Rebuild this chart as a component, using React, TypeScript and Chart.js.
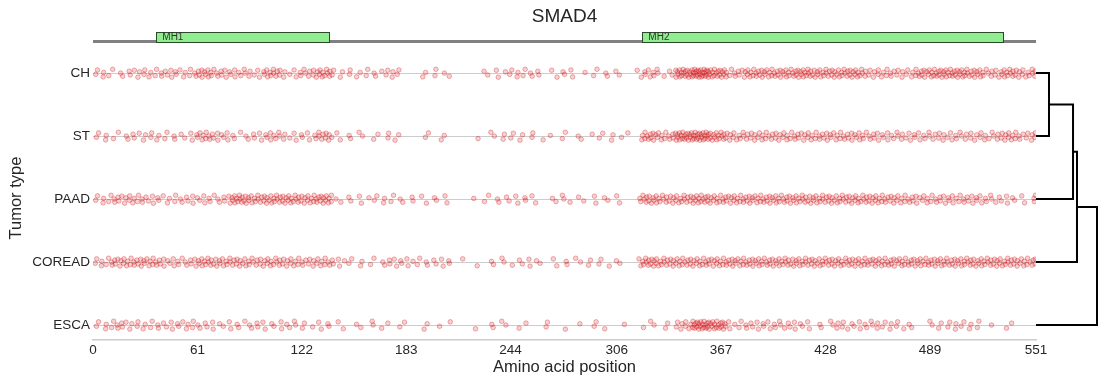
import React, { useEffect, useRef } from "react";
import { Chart, registerables } from "chart.js";
Chart.register(...registerables);

const GENE = "SMAD4";
const TUMOR_TYPES = ["CH", "ST", "PAAD", "COREAD", "ESCA"];
const X_TICKS = [0, 61, 122, 183, 244, 306, 367, 428, 489, 551];
const PROTEIN_LENGTH = 551;
const DOMAIN_NAMES = ["MH1", "MH2"];
const DOMAIN_STARTS = [37, 321];
const DOMAIN_ENDS = [138, 532];

// mutation counts per 10-aa bin (bins 0..55)
const BIN_SIZE = 10;
const CH_COUNTS = [5, 3, 6, 6, 7, 6, 11, 8, 7, 6, 11, 5, 8, 12, 4, 4, 4, 6, 0, 3, 3, 0, 1, 3, 5, 5, 2, 4, 2, 3, 3, 1, 8, 4, 18, 24, 16, 8, 12, 12, 12, 14, 12, 12, 13, 8, 8, 7, 12, 14, 14, 12, 8, 12, 9, 2];
const ST_COUNTS = [4, 3, 5, 5, 4, 4, 10, 7, 4, 5, 8, 5, 5, 10, 3, 3, 2, 4, 0, 2, 2, 0, 1, 3, 4, 3, 2, 2, 2, 3, 3, 1, 12, 9, 18, 20, 14, 9, 9, 9, 9, 9, 9, 9, 9, 8, 7, 7, 7, 7, 7, 7, 7, 10, 7, 2];
const PAAD_COUNTS = [5, 8, 8, 6, 5, 6, 6, 6, 14, 11, 12, 12, 11, 13, 3, 3, 4, 4, 3, 3, 3, 0, 2, 3, 4, 4, 1, 4, 2, 3, 3, 1, 12, 10, 11, 13, 11, 11, 11, 11, 11, 11, 11, 11, 11, 11, 10, 9, 8, 8, 8, 8, 6, 5, 3, 2];
const COREAD_COUNTS = [6, 10, 10, 10, 7, 7, 11, 10, 10, 9, 10, 9, 8, 9, 5, 3, 3, 6, 5, 4, 5, 1, 1, 3, 3, 4, 2, 3, 3, 3, 3, 1, 13, 11, 11, 11, 11, 11, 11, 11, 11, 11, 11, 11, 11, 11, 11, 11, 11, 11, 11, 11, 11, 11, 10, 2];
const ESCA_COUNTS = [4, 7, 5, 5, 5, 6, 5, 4, 4, 5, 4, 5, 3, 4, 2, 2, 3, 2, 1, 2, 2, 0, 1, 3, 2, 1, 2, 1, 1, 3, 0, 1, 3, 2, 8, 20, 16, 5, 6, 6, 6, 5, 2, 6, 5, 6, 5, 4, 1, 4, 5, 4, 1, 2, 0, 0];
const ROW_COUNTS = [CH_COUNTS, ST_COUNTS, PAAD_COUNTS, COREAD_COUNTS, ESCA_COUNTS];

// strip-plot jitter pattern (vertical in row units, horizontal as fraction of spacing)
const JITTER_Y = [0.02, -0.05, 0.06, -0.01, 0.04, -0.06, 0.0, 0.05, -0.03, 0.03, -0.045, 0.065, -0.02];
const JITTER_X = [0.3, -0.2, 0.45, -0.4, 0.1, -0.05, 0.35, -0.3, 0.2, -0.45, 0.0, 0.25, -0.15, 0.4, -0.35, 0.15, -0.25];

// hierarchical clustering: leaves 0..4, merged nodes numbered 5..
const MERGE_A = [0, 5, 6, 7];
const MERGE_B = [1, 2, 3, 4];
const MERGE_HEIGHT = [0.213, 0.607, 0.672, 1.0];

const FONT = "'Liberation Sans', Arial, sans-serif";
const TRACK_Y = -0.5;
const BOX_TOP = -0.65;
const BOX_BOTTOM = -0.49;

function buildPoints(counts: number[], row: number) {
  const pts: { x: number; y: number }[] = [];
  let j = 0;
  counts.forEach((c, b) => {
    const start = b * BIN_SIZE;
    const width = Math.min(BIN_SIZE, PROTEIN_LENGTH - start);
    const step = c > 0 ? width / c : 0;
    for (let k = 0; k < c; k++) {
      let x = start + (k + 0.5) * step + JITTER_X[j % JITTER_X.length] * step;
      x = Math.max(0.5, Math.min(PROTEIN_LENGTH - 0.3, x));
      const y = row + JITTER_Y[j % JITTER_Y.length];
      pts.push({ x, y });
      j++;
    }
  });
  return pts;
}

function buildDendrogram() {
  const ny: number[] = TUMOR_TYPES.map((_, i) => i);
  const nh: number[] = TUMOR_TYPES.map(() => 0);
  const segs: { x: number; y: number }[][] = [];
  MERGE_A.forEach((a, i) => {
    const b = MERGE_B[i];
    const h = MERGE_HEIGHT[i];
    segs.push([
      { x: nh[a], y: ny[a] },
      { x: h, y: ny[a] },
      { x: h, y: ny[b] },
      { x: nh[b], y: ny[b] },
    ]);
    ny.push((ny[a] + ny[b]) / 2);
    nh.push(h);
  });
  return segs;
}

const overlayPlugin = {
  id: "overlay",
  afterDatasetsDraw(chart: any) {
    const { ctx, chartArea, scales } = chart;
    const xs = scales.x;
    const ys = scales.y;
    ctx.save();
    DOMAIN_NAMES.forEach((name, i) => {
      const x1 = xs.getPixelForValue(DOMAIN_STARTS[i]);
      const x2 = xs.getPixelForValue(DOMAIN_ENDS[i]);
      const y1 = ys.getPixelForValue(BOX_TOP);
      const y2 = ys.getPixelForValue(BOX_BOTTOM);
      ctx.fillStyle = "#90ee90";
      ctx.fillRect(x1, y1, x2 - x1, y2 - y1);
      ctx.strokeStyle = "#2a4a2a";
      ctx.lineWidth = 1;
      ctx.strokeRect(Math.round(x1) + 0.5, Math.round(y1) + 0.5, Math.round(x2 - x1), Math.round(y2 - y1));
      ctx.fillStyle = "#333333";
      ctx.font = `10px ${FONT}`;
      ctx.textAlign = "left";
      ctx.textBaseline = "middle";
      ctx.fillText(name, x1 + 6, (y1 + y2) / 2 + 0.5);
    });
    const cx = (chartArea.left + chartArea.right) / 2;
    ctx.fillStyle = "#262626";
    ctx.textAlign = "center";
    ctx.textBaseline = "middle";
    ctx.font = `19px ${FONT}`;
    ctx.fillText(GENE, cx, 17);
    ctx.font = `16.5px ${FONT}`;
    ctx.fillText("Amino acid position", cx, 367);
    const ym = (ys.getPixelForValue(-0.27) + chartArea.bottom) / 2;
    ctx.translate(16, ym);
    ctx.rotate(-Math.PI / 2);
    ctx.fillText("Tumor type", 0, 0);
    ctx.restore();
  },
};

export default function App() {
  const ref = useRef<HTMLCanvasElement | null>(null);
  useEffect(() => {
    document.body.style.margin = "0";
    if (!ref.current) return;
    const rowSets = ROW_COUNTS.map((counts, r) => ({
      label: TUMOR_TYPES[r],
      data: buildPoints(counts, r),
      pointRadius: 2.3,
      pointBorderWidth: 0.9,
      backgroundColor: "rgba(214,25,28,0.2)",
      borderColor: "rgba(205,15,20,0.36)",
      showLine: false,
      xAxisID: "x",
      yAxisID: "y",
    }));
    const trackSet = {
      label: "track",
      data: [
        { x: 0, y: TRACK_Y },
        { x: PROTEIN_LENGTH, y: TRACK_Y },
      ],
      showLine: true,
      borderColor: "#808080",
      borderWidth: 3,
      pointRadius: 0,
      xAxisID: "x",
      yAxisID: "y",
    };
    const dendroSets = buildDendrogram().map((seg, i) => ({
      label: "link" + i,
      data: seg,
      showLine: true,
      borderColor: "#000000",
      borderWidth: 2,
      pointRadius: 0,
      tension: 0,
      clip: false,
      xAxisID: "xd",
      yAxisID: "y",
    }));
    const chart = new Chart(ref.current, {
      type: "scatter",
      data: { datasets: [trackSet, ...rowSets, ...dendroSets] as any },
      options: {
        animation: false,
        responsive: true,
        maintainAspectRatio: false,
        events: [],
        layout: { padding: { top: 29, right: 74, left: 0, bottom: 0 } },
        plugins: { legend: { display: false }, tooltip: { enabled: false }, title: { display: false } },
        scales: {
          x: {
            type: "linear",
            min: 0,
            max: PROTEIN_LENGTH,
            grid: { display: false, drawTicks: false },
            border: { display: true, color: "#cccccc", width: 1.5 },
            ticks: { color: "#262626", font: { size: 13.5, family: FONT }, padding: 2, autoSkip: false, maxRotation: 0 },
            afterBuildTicks: (s: any) => {
              s.ticks = X_TICKS.map((v) => ({ value: v }));
            },
            afterFit: (s: any) => {
              s.height = 45;
            },
          },
          xd: {
            type: "linear",
            display: false,
            min: -15.46,
            max: 0,
          },
          y: {
            type: "linear",
            reverse: true,
            min: -0.7,
            max: 4.238,
            grid: { display: true, color: "#cccccc", lineWidth: 1, drawTicks: false },
            border: { display: false },
            ticks: {
              color: "#262626",
              font: { size: 13.5, family: FONT },
              padding: 3,
              autoSkip: false,
              callback: (v: any) => TUMOR_TYPES[v as number] ?? "",
            },
            afterBuildTicks: (s: any) => {
              s.ticks = TUMOR_TYPES.map((_, i) => ({ value: i }));
            },
            afterFit: (s: any) => {
              s.width = 93;
            },
          },
        },
      },
      plugins: [overlayPlugin],
    });
    return () => chart.destroy();
  }, []);
  return (
    <div style={{ width: 1110, height: 385, position: "relative" }}>
      <canvas ref={ref} />
    </div>
  );
}
